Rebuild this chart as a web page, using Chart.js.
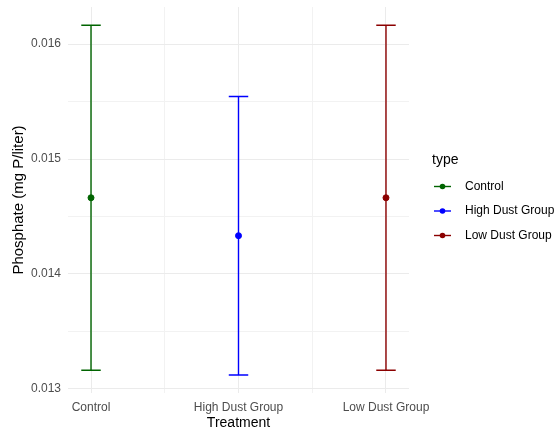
<!DOCTYPE html>
<html>
<head>
<meta charset="utf-8">
<script src="https://cdn.jsdelivr.net/npm/chart.js@4/dist/chart.umd.min.js"></script>
<style>
  html, body { margin: 0; padding: 0; background: #ffffff; }
  canvas { display: block; }
</style>
</head>
<body>
<canvas id="chart" width="558" height="430"></canvas>
<script>
// Treatment groups and phosphate summary (mean with lower / upper bounds), mg P/liter
const categories = ['Control', 'High Dust Group', 'Low Dust Group'];
const means = [0.014663, 0.014333, 0.014663];
const lower = [0.013163, 0.013122, 0.013163];
const upper = [0.016163, 0.015544, 0.016163];
const colors = ['#006400', '#0000FF', '#8B0000'];

// Y axis ticks: labelled majors and unlabelled minors between them
const yMajor = [0.013, 0.014, 0.015, 0.016];
const yMajorLabels = ['0.013', '0.014', '0.015', '0.016'];
const yMinor = [0.0135, 0.0145, 0.0155];

const FONT = '"Liberation Sans", Arial, Helvetica, sans-serif';

// Vertical error bars with caps, drawn under the points
const errorBars = {
  id: 'errorBars',
  beforeDatasetsDraw(chart) {
    const { ctx, scales: { x, y } } = chart;
    const capHalf = 0.066;
    ctx.save();
    ctx.lineWidth = 1.4;
    categories.forEach((c, i) => {
      const px = x.getPixelForValue(i + 1);
      const pl = x.getPixelForValue(i + 1 - capHalf);
      const pr = x.getPixelForValue(i + 1 + capHalf);
      const yt = y.getPixelForValue(upper[i]);
      const yb = y.getPixelForValue(lower[i]);
      ctx.strokeStyle = colors[i];
      ctx.beginPath();
      ctx.moveTo(px, yt); ctx.lineTo(px, yb);
      ctx.moveTo(pl, yt); ctx.lineTo(pr, yt);
      ctx.moveTo(pl, yb); ctx.lineTo(pr, yb);
      ctx.stroke();
    });
    ctx.restore();
  }
};

// Legend on the right: title "type" and one key per treatment group
const sideLegend = {
  id: 'sideLegend',
  afterDraw(chart) {
    const { ctx } = chart;
    ctx.save();
    ctx.textBaseline = 'middle';
    ctx.textAlign = 'left';
    ctx.fillStyle = '#000000';
    ctx.font = '14px ' + FONT;
    ctx.fillText('type', 432, 160);
    ctx.font = '12px ' + FONT;
    categories.forEach((c, i) => {
      const yy = 186.5 + i * 24.5;
      ctx.strokeStyle = colors[i];
      ctx.lineWidth = 1.4;
      ctx.beginPath();
      ctx.moveTo(434, yy); ctx.lineTo(451, yy);
      ctx.stroke();
      ctx.fillStyle = colors[i];
      ctx.beginPath();
      ctx.arc(442.5, yy, 2.8, 0, Math.PI * 2);
      ctx.fill();
      ctx.fillStyle = '#000000';
      ctx.fillText(c, 465, yy);
    });
    ctx.restore();
  }
};

new Chart(document.getElementById('chart'), {
  type: 'scatter',
  data: {
    datasets: [{
      label: 'mean',
      data: means.map((m, i) => ({ x: i + 1, y: m })),
      pointBackgroundColor: colors,
      pointBorderColor: colors,
      pointRadius: 3,
      pointHoverRadius: 3,
      showLine: false
    }]
  },
  options: {
    responsive: false,
    animation: false,
    events: [],
    layout: { padding: { top: 7, right: 149, left: 6, bottom: 0 } },
    plugins: {
      legend: { display: false },
      tooltip: { enabled: false }
    },
    scales: {
      x: {
        type: 'linear',
        min: 0.844,
        max: 3.156,
        afterBuildTicks(scale) {
          scale.ticks = [1, 1.5, 2, 2.5, 3].map(v => ({ value: v }));
        },
        afterFit(scale) {
          scale.height = 37;
          scale.paddingLeft = 0;
          scale.paddingRight = 0;
        },
        border: { display: false },
        grid: {
          drawTicks: false,
          lineWidth: 1,
          color: ctx => Number.isInteger(ctx.tick && ctx.tick.value) ? '#ebebeb' : '#f2f2f2'
        },
        ticks: {
          padding: 7,
          autoSkip: false,
          maxRotation: 0,
          color: '#4d4d4d',
          font: { family: FONT, size: 12 },
          callback: v => Number.isInteger(v) ? categories[v - 1] : ''
        },
        title: {
          display: true,
          text: 'Treatment',
          color: '#000000',
          font: { family: FONT, size: 14 },
          padding: { top: 0, bottom: -1.5 }
        }
      },
      y: {
        type: 'linear',
        min: 0.012965,
        max: 0.016322,
        afterBuildTicks(scale) {
          scale.ticks = yMajor.concat(yMinor).sort((a, b) => a - b).map(v => ({ value: v }));
        },
        afterFit(scale) {
          scale.width = 62;
          scale.paddingTop = 0;
          scale.paddingBottom = 0;
        },
        border: { display: false },
        grid: {
          drawTicks: false,
          lineWidth: 1,
          color: ctx => (ctx.tick && yMajor.some(v => Math.abs(v - ctx.tick.value) < 1e-9)) ? '#ebebeb' : '#f2f2f2'
        },
        ticks: {
          padding: 7,
          color: '#4d4d4d',
          font: { family: FONT, size: 12 },
          callback: v => {
            const k = yMajor.findIndex(m => Math.abs(m - v) < 1e-9);
            return k >= 0 ? yMajorLabels[k] : '';
          }
        },
        title: {
          display: true,
          text: 'Phosphate (mg P/liter)',
          color: '#000000',
          font: { family: FONT, size: 15 },
          padding: { top: 4, bottom: 0 }
        }
      }
    }
  },
  plugins: [errorBars, sideLegend]
});
</script>
</body>
</html>
